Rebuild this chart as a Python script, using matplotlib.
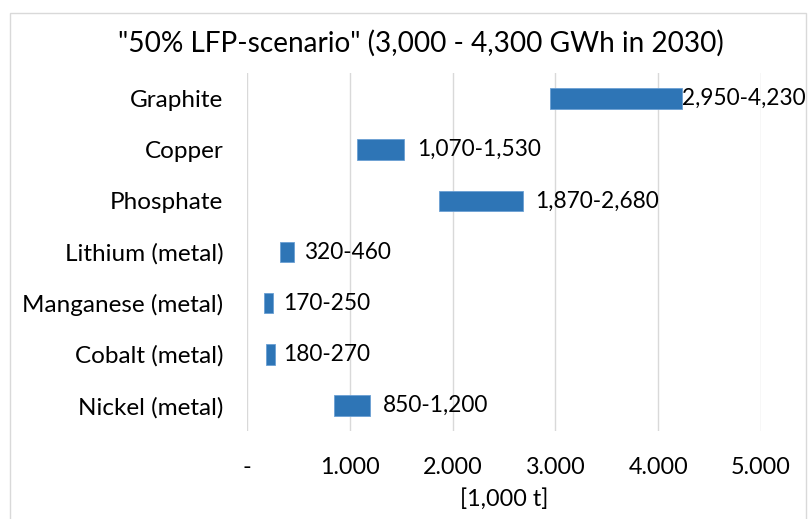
import matplotlib.pyplot as plt
from matplotlib.patches import Rectangle

plt.rcParams["font.family"] = ["Lato", "DejaVu Sans"]

# material demand ranges, 1,000 t (top to bottom)
materials = ["Graphite", "Copper", "Phosphate", "Lithium (metal)",
             "Manganese (metal)", "Cobalt (metal)", "Nickel (metal)"]
low = [2950, 1070, 1870, 320, 170, 180, 850]
high = [4230, 1530, 2680, 460, 250, 270, 1200]
range_labels = ["2,950-4,230", "1,070-1,530", "1,870-2,680", "320-460",
                "170-250", "180-270", "850-1,200"]
x_ticks = [0, 1000, 2000, 3000, 4000, 5000]
x_tick_labels = ["-", "1.000", "2.000", "3.000", "4.000", "5.000"]

BAR_COLOR = "#2E75B6"
GRID_COLOR = "#D9D9D9"
FS = 16.3

fig = plt.figure(figsize=(8.08, 5.19), dpi=100)
fig.patches.append(Rectangle((10 / 808, -0.1), 796 / 808, 1 - 13 / 519 + 0.1,
                             transform=fig.transFigure, fill=False,
                             edgecolor=GRID_COLOR, linewidth=1.0))

ax = fig.add_axes([247 / 808, 1 - 431 / 519, 514 / 808, 358 / 519])
pos = list(range(len(materials)))
widths = [h - l for l, h in zip(low, high)]
ax.barh(pos, widths, left=low, height=0.4, color=BAR_COLOR,
        edgecolor="#6A9FD4", linewidth=0.6, zorder=3)

offsets = [0, 13, 13, 10, 10, 8, 13]
for p, h, txt, off in zip(pos, high, range_labels, offsets):
    ax.annotate(txt, (h, p), xytext=(off / 1.39, 0), textcoords="offset points",
                va="center", ha="left", fontsize=FS, color="#000000")

ax.set_xlim(0, 5000)
ax.set_ylim(len(materials) - 0.5, -0.5)
ax.set_yticks(pos)
ax.set_yticklabels(materials, fontsize=17.5)
ax.set_xticks(x_ticks)
ax.set_xticklabels(x_tick_labels, fontsize=16.8)
ax.tick_params(axis="both", length=0, colors="#000000")
ax.tick_params(axis="y", pad=17)
ax.tick_params(axis="x", pad=19)
ax.grid(axis="x", color=GRID_COLOR, linewidth=1.0, zorder=0)
ax.set_axisbelow(True)
for s in ax.spines.values():
    s.set_visible(False)

ax.set_xlabel("[1,000 t]", fontsize=16.8, labelpad=7)
fig.text(421 / 808, 1 - 43 / 519, '"50% LFP-scenario" (3,000 - 4,300 GWh in 2030)',
         ha="center", va="center", fontsize=20.2)

fig.savefig("out.png", dpi=100)
